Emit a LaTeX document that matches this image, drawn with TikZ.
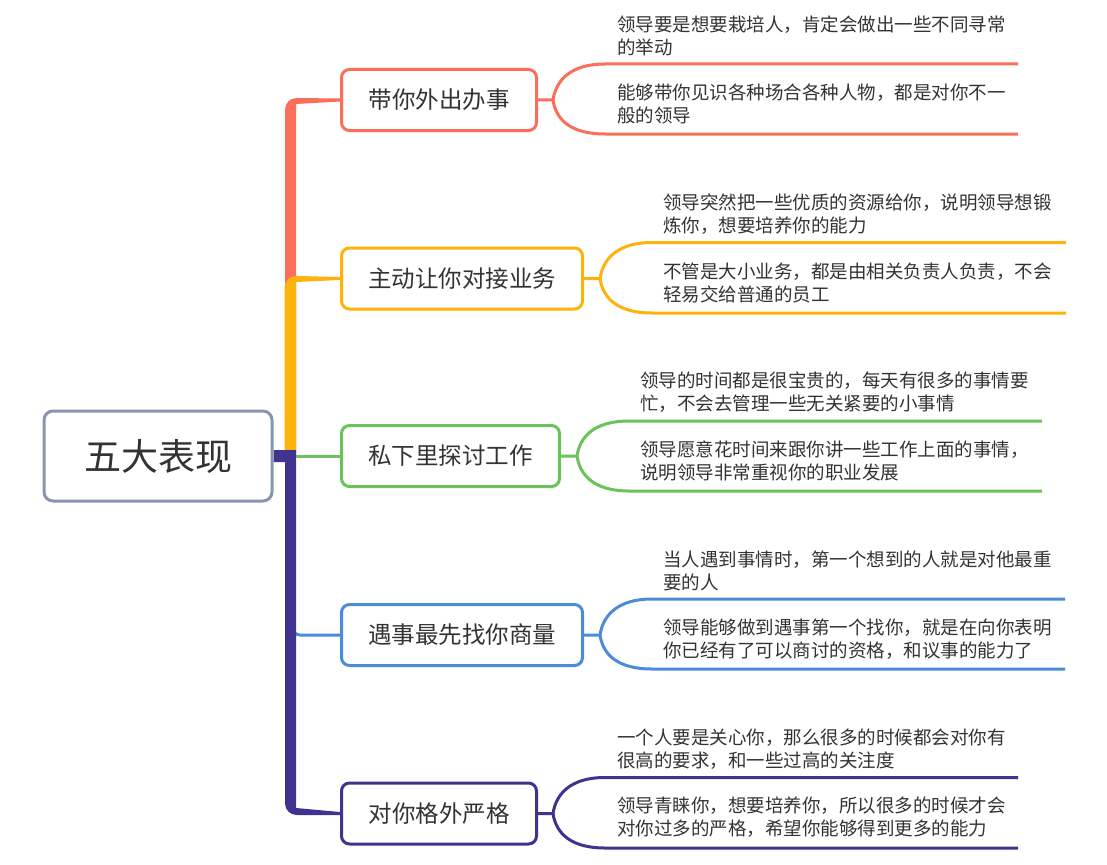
\documentclass[tikz,border=0pt]{standalone}
\usepackage{fontspec}
\setmainfont{Noto Sans CJK SC}
\usetikzlibrary{calc,backgrounds}
\definecolor{cred}{HTML}{FB6E5A}
\definecolor{corange}{HTML}{FFB20C}
\definecolor{cgreen}{HTML}{6CC25A}
\definecolor{cblue}{HTML}{4B8BD9}
\definecolor{cpurple}{HTML}{40338F}
\definecolor{cgray}{HTML}{8696AC}
\definecolor{txt}{HTML}{333333}
\tikzset{
  rootbox/.style={draw=cgray, line width=3pt, rounded corners=9pt, fill=white,
    minimum width=228pt, minimum height=90pt, inner sep=0pt,
    font=\fontsize{37}{42}\selectfont, text=txt},
  branchbox/.style={draw=#1, line width=3pt, rounded corners=8pt, fill=white,
    minimum height=61pt, inner sep=0pt,
    font=\fontsize{23.5}{28}\selectfont, text=txt},
  leaf/.style={anchor=west, align=left, inner sep=0pt,
    font=\fontsize{18.5}{23}\selectfont, text=txt},
  brk/.style={draw=#1, line width=3pt},
}
\begin{document}
\begin{tikzpicture}[x=1pt,y=-1pt]
\useasboundingbox (0,0) rectangle (1107,864);

% nodes
\node[rootbox] (root) at (158,456) {五大表现};
\node[branchbox=cred, minimum width=195pt] (b1) at (439,100) {带你外出办事};
\node[branchbox=corange, minimum width=241pt] (b2) at (462,278.5) {主动让你对接业务};
\node[branchbox=cgreen, minimum width=218pt] (b3) at (450.5,456) {私下里探讨工作};
\node[branchbox=cblue, minimum width=241pt] (b4) at (462,635) {遇事最先找你商量};
\node[branchbox=cpurple, minimum width=195pt] (b5) at (439,813.5) {对你格外严格};

% trunk connectors
\begin{scope}[on background layer]
\fill[white] (0,0) rectangle (1107,864);
\fill[cred] (285,456) -- (285,110) .. controls (285,103) and (290,98) .. (297,98)
  -- ($(b1.west)+(0,-1.5)$) -- ($(b1.west)+(0,1.5)$) -- (296,104) -- (296,456) -- cycle;
\fill[corange] (284.5,450) -- (284.5,288) .. controls (284.5,281) and (289.5,276) .. (296.5,276)
  -- ($(b2.west)+(0,-1.5)$) -- ($(b2.west)+(0,1.5)$) -- (296,282) -- (296,450) -- cycle;
\draw[cblue, line width=3pt] (293,456) -- (293,626) .. controls (293,631.5) and (295,635) .. (300,635) -- (b4.west);
\fill[cpurple] ($(root.east)+(0,-6)$) -- (296,450) -- (296,808)
  -- ($(b5.west)+(0,-1.5)$) -- ($(b5.west)+(0,1.5)$) -- (297,815)
  .. controls (290,815) and (285,810) .. (285,803) -- (285,462) -- ($(root.east)+(0,6)$) -- cycle;
\draw[cgreen, line width=3pt] (296,456) -- (b3.west);
\end{scope}

% brackets
\coordinate (t1) at (553,100);
\coordinate (t2) at (600,278.5);
\coordinate (t3) at (577,456);
\coordinate (t4) at (600,635);
\coordinate (t5) at (553,813.5);

\draw[brk=cred] (b1.east) -- (t1) .. controls ($(t1)+(3,-20)$) and ($(t1)+(18,-36)$) .. ($(t1)+(52,-36)$) -- (1018,64);
\draw[brk=cred] (t1) .. controls ($(t1)+(3,20)$) and ($(t1)+(18,34)$) .. ($(t1)+(52,34)$) -- (1018,134);

\draw[brk=corange] (b2.east) -- (t2) .. controls ($(t2)+(3,-20)$) and ($(t2)+(18,-36)$) .. ($(t2)+(52,-36)$) -- (1066,242.5);
\draw[brk=corange] (t2) .. controls ($(t2)+(3,20)$) and ($(t2)+(18,34.5)$) .. ($(t2)+(52,34.5)$) -- (1066,313);

\draw[brk=cgreen] (b3.east) -- (t3) .. controls ($(t3)+(3,-20)$) and ($(t3)+(18,-35)$) .. ($(t3)+(52,-35)$) -- (1042,421);
\draw[brk=cgreen] (t3) .. controls ($(t3)+(3,20)$) and ($(t3)+(18,35)$) .. ($(t3)+(52,35)$) -- (1042,491);

\draw[brk=cblue] (b4.east) -- (t4) .. controls ($(t4)+(3,-20)$) and ($(t4)+(18,-36)$) .. ($(t4)+(52,-36)$) -- (1065,599);
\draw[brk=cblue] (t4) .. controls ($(t4)+(3,20)$) and ($(t4)+(18,34)$) .. ($(t4)+(52,34)$) -- (1065,669);

\draw[brk=cpurple] (b5.east) -- (t5) .. controls ($(t5)+(3,-20)$) and ($(t5)+(18,-36)$) .. ($(t5)+(52,-36)$) -- (1018,777.5);
\draw[brk=cpurple] (t5) .. controls ($(t5)+(3,20)$) and ($(t5)+(18,34.5)$) .. ($(t5)+(52,34.5)$) -- (1018,848);

% leaf texts
\node[leaf] (l1a) at (617,35.5) {领导要是想要栽培人，肯定会做出一些不同寻常\\的举动};
\node[leaf] (l1b) at (617,104) {能够带你见识各种场合各种人物，都是对你不一\\般的领导};
\node[leaf] (l2a) at (663,214) {领导突然把一些优质的资源给你，说明领导想锻\\炼你，想要培养你的能力};
\node[leaf] (l2b) at (663,283) {不管是大小业务，都是由相关负责人负责，不会\\轻易交给普通的员工};
\node[leaf] (l3a) at (640,392) {领导的时间都是很宝贵的，每天有很多的事情要\\忙，不会去管理一些无关紧要的小事情};
\node[leaf] (l3b) at (640,461) {领导愿意花时间来跟你讲一些工作上面的事情，\\说明领导非常重视你的职业发展};
\node[leaf] (l4a) at (663,571) {当人遇到事情时，第一个想到的人就是对他最重\\要的人};
\node[leaf] (l4b) at (663,639) {领导能够做到遇事第一个找你，就是在向你表明\\你已经有了可以商讨的资格，和议事的能力了};
\node[leaf] (l5a) at (617,749) {一个人要是关心你，那么很多的时候都会对你有\\很高的要求，和一些过高的关注度};
\node[leaf] (l5b) at (617,817) {领导青睐你，想要培养你，所以很多的时候才会\\对你过多的严格，希望你能够得到更多的能力};
\end{tikzpicture}
\end{document}
